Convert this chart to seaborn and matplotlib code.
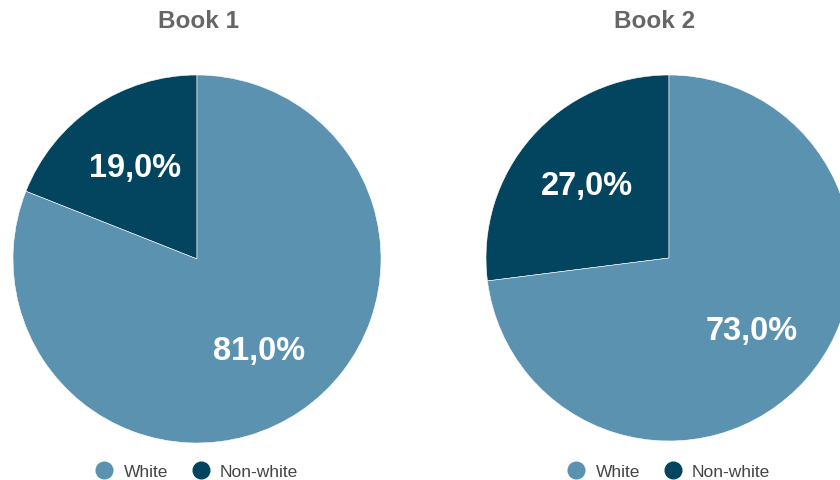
import matplotlib
matplotlib.use("Agg")
import matplotlib.pyplot as plt
from matplotlib.lines import Line2D
import seaborn as sns

# Data
books = ["Book 1", "Book 2"]
categories = ["Non-white", "White"]
book1_values = [19.0, 81.0]
book2_values = [27.0, 73.0]
legend_order = ["White", "Non-white"]

sns.set_theme(style="white")
plt.rcParams["font.family"] = ["Liberation Sans", "DejaVu Sans"]

palette = {"White": "#5b92af", "Non-white": "#03445f"}

W, H = 840, 481
fig = plt.figure(figsize=(W / 100, H / 100), dpi=100)
fig.patch.set_facecolor("white")

# pie centre (px), radius (px), title centre x (px)
layout = [
    (197, 260, 184, 199),
    (669, 259, 183, 655),
]

def pct_fmt(p):
    return f"{p:.1f}".replace(".", ",") + "%"

for name, values, (cx, cy, r, tx) in zip(books, [book1_values, book2_values], layout):
    ax = fig.add_axes([(cx - r) / W, (H - cy - r) / H, 2 * r / W, 2 * r / H])
    ax.pie(
        values,
        colors=[palette[c] for c in categories],
        startangle=90,
        counterclock=True,
        autopct=pct_fmt,
        pctdistance=0.6,
        radius=1.0,
        wedgeprops=dict(edgecolor="white", linewidth=0.4),
        textprops=dict(color="white", fontsize=23.5, fontweight="bold"),
    )
    ax.set_xlim(-1, 1)
    ax.set_ylim(-1, 1)
    ax.set_aspect("auto")
    ax.axis("off")

    fig.text(tx / W, 1 - 22 / H, name, ha="center", va="center",
             fontsize=17.5, fontweight="bold", color="#666666")

    handles = [Line2D([], [], marker="o", linestyle="none", markersize=12,
                      markerfacecolor=palette[c], markeredgecolor=palette[c])
               for c in legend_order]
    fig.legend(handles, legend_order, loc="center",
               bbox_to_anchor=(cx / W, 1 - 472 / H), ncol=2, frameon=False,
               fontsize=12.5, labelcolor="#444444", handlelength=1.0,
               handletextpad=0.6, columnspacing=1.4, borderpad=0)

fig.savefig("out.png", dpi=100, facecolor="white")
